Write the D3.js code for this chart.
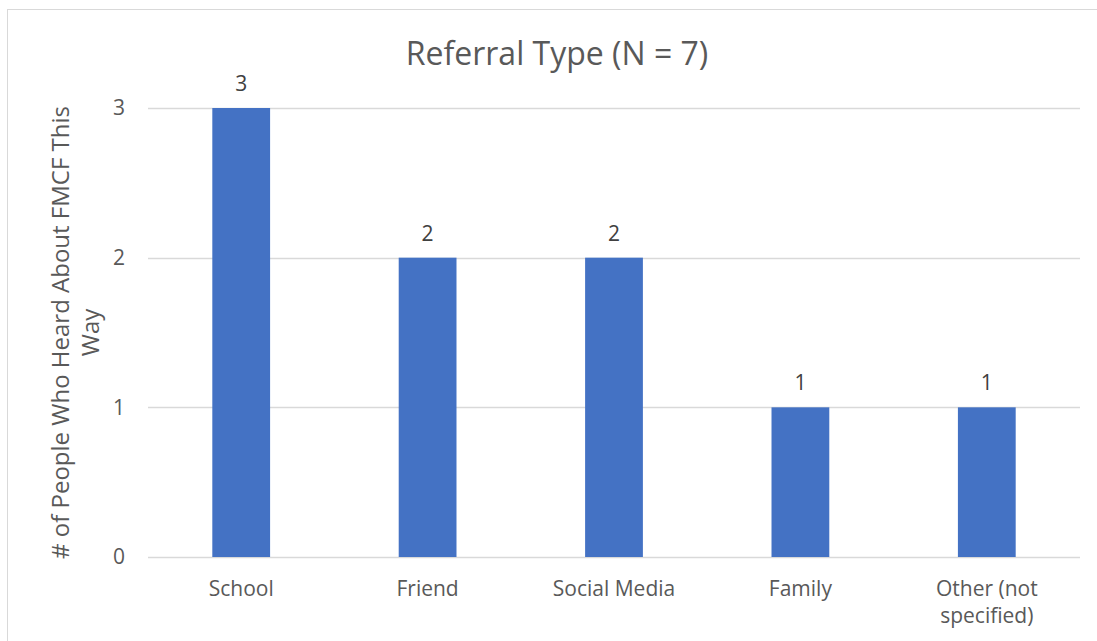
<!DOCTYPE html>
<html>
<head>
<meta charset="utf-8">
<script src="https://cdn.jsdelivr.net/npm/d3@7"></script>
<style>
  body { margin: 0; background: #fff; }
  svg { font-family: "Open Sans", sans-serif; }
</style>
</head>
<body>
<div id="chart"></div>
<script>
// data
var categories = ["School", "Friend", "Social Media", "Family", "Other (not specified)"];
var counts = [3, 2, 2, 1, 1];
var yTicks = [0, 1, 2, 3];

var W = 1097, H = 641;
var margin = {top: 108, right: 17, bottom: 84, left: 148},
    width = W - margin.left - margin.right,
    height = H - margin.top - margin.bottom;

var svg = d3.select("#chart").append("svg")
    .attr("width", W)
    .attr("height", H);

// outer chart frame (runs off the picture on the right/bottom)
svg.append("rect")
    .attr("x", 7.5).attr("y", 9.5)
    .attr("width", W).attr("height", H)
    .attr("fill", "none")
    .attr("stroke", "#d9d9d9");

var g = svg.append("g")
    .attr("transform", "translate(" + margin.left + "," + margin.top + ")");

var x = d3.scaleBand().domain(categories).range([0, width])
    .paddingInner(0.69).paddingOuter(0.345);
var y = d3.scaleLinear().domain([0, 3]).range([height, 0]);

// gridlines
g.selectAll(".grid").data(yTicks).enter().append("line")
    .attr("x1", 0).attr("x2", width)
    .attr("y1", function(d) { return Math.round(y(d)) + 0.5; })
    .attr("y2", function(d) { return Math.round(y(d)) + 0.5; })
    .attr("stroke", "#d9d9d9").attr("stroke-width", 1.3);

// y tick labels
var yAxis = d3.axisLeft(y).tickValues(yTicks).tickFormat(d3.format("d"))
    .tickSize(0).tickPadding(23);
g.append("g").call(yAxis)
  .call(function(s) { s.select(".domain").remove(); })
  .selectAll("text")
    .attr("fill", "#595959")
    .style("font-family", "'Open Sans', sans-serif")
    .style("font-size", "21px");

// bars
g.selectAll(".bar").data(counts).enter().append("rect")
    .attr("x", function(d, i) { return x(categories[i]); })
    .attr("y", function(d) { return y(d); })
    .attr("width", x.bandwidth())
    .attr("height", function(d) { return height - y(d); })
    .attr("fill", "#4472c4");

// value labels
g.selectAll(".val").data(counts).enter().append("text")
    .attr("x", function(d, i) { return x(categories[i]) + x.bandwidth() / 2; })
    .attr("y", function(d) { return y(d) - 17; })
    .attr("text-anchor", "middle")
    .attr("fill", "#404040")
    .style("font-size", "21px")
    .text(function(d) { return d; });

// x axis labels, wrapped like the original
var xLines = {"Other (not specified)": ["Other (not", "specified)"]};
var xl = g.selectAll(".xl").data(categories).enter().append("text")
    .attr("x", function(d) { return x(d) + x.bandwidth() / 2; })
    .attr("y", height + 39)
    .attr("text-anchor", "middle")
    .attr("fill", "#595959")
    .style("font-size", "21px");
xl.each(function(d) {
  var lines = xLines[d] || [d];
  var t = d3.select(this);
  lines.forEach(function(l, i) {
    t.append("tspan")
      .attr("x", x(d) + x.bandwidth() / 2)
      .attr("dy", i == 0 ? 0 : 27)
      .text(l);
  });
});

// title, centred on the whole chart frame
svg.append("text")
    .attr("x", 557)
    .attr("y", 65)
    .attr("text-anchor", "middle")
    .attr("fill", "#595959")
    .style("font-size", "32px")
    .text("Referral Type (N = 7)");

// y axis title, two lines
var yt = svg.append("text")
    .attr("transform", "translate(69," + (margin.top + height / 2) + ") rotate(-90)")
    .attr("text-anchor", "middle")
    .attr("fill", "#595959")
    .style("font-size", "24px");
yt.append("tspan").attr("x", 0).attr("dy", 0).text("# of People Who Heard About FMCF This");
yt.append("tspan").attr("x", 0).attr("dy", 30).text("Way");
</script>
</body>
</html>
